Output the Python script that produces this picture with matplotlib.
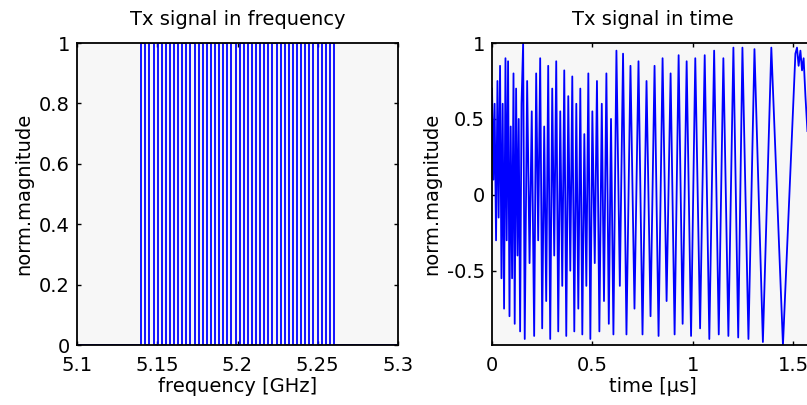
import matplotlib
matplotlib.use("Agg")
import matplotlib.pyplot as plt

# --- frequency domain: rectangular pulses (GHz) ---
pulse_lo = [5.1400, 5.1451, 5.1502, 5.1553, 5.1604, 5.1655, 5.1707, 5.1758,
            5.1809, 5.1860, 5.1911, 5.1962, 5.2013, 5.2064, 5.2115, 5.2167,
            5.2218, 5.2269, 5.2320, 5.2371, 5.2422, 5.2473, 5.2524, 5.2575]
pulse_hi = [5.1426, 5.1477, 5.1528, 5.1579, 5.1630, 5.1681, 5.1733, 5.1784,
            5.1835, 5.1886, 5.1937, 5.1988, 5.2039, 5.2090, 5.2141, 5.2193,
            5.2244, 5.2295, 5.2346, 5.2397, 5.2448, 5.2499, 5.2550, 5.2601]
freq_range = [5.1, 5.3]

# --- time domain: turning points (us, norm. magnitude) ---
t_us = [0.000, 0.007, 0.013, 0.020, 0.027, 0.033, 0.040, 0.047, 0.053, 0.060,
        0.067, 0.073, 0.080, 0.087, 0.093, 0.100, 0.107, 0.113, 0.120, 0.127,
        0.133, 0.140, 0.147, 0.155, 0.163,
        0.175, 0.187, 0.198, 0.210, 0.220, 0.230, 0.240, 0.250, 0.260, 0.270,
        0.280, 0.290, 0.300, 0.310, 0.320, 0.330, 0.340, 0.350, 0.360, 0.370,
        0.380, 0.390, 0.400, 0.410, 0.420, 0.430, 0.440, 0.450, 0.460, 0.470,
        0.480, 0.490, 0.500, 0.512, 0.523, 0.535, 0.547, 0.558, 0.570, 0.582,
        0.593, 0.605,
        0.620, 0.637, 0.653, 0.670, 0.690, 0.710, 0.730, 0.750, 0.770, 0.790,
        0.810, 0.830, 0.850, 0.870, 0.890, 0.910, 0.930, 0.950, 0.970, 0.992,
        1.013, 1.037, 1.060, 1.083, 1.107, 1.130,
        1.153, 1.178, 1.203, 1.227, 1.248, 1.278, 1.308, 1.350, 1.392, 1.450,
        1.495, 1.512, 1.520, 1.528, 1.537, 1.545, 1.553, 1.562, 1.572]
mag = [0.70, 0.10, 0.60, -0.30, 0.75, -0.15, 0.85, -0.55, 0.60, -0.75,
       0.90, -0.30, 0.88, -0.80, 0.45, -0.55, 0.80, -0.85, 0.70, -0.40,
       0.50, -0.90, 0.60, 1.00, -0.95,
       0.75, -0.45, 0.55, -0.93, 0.80, -0.30, 0.90, -0.88, 0.45, -0.70,
       0.85, -0.95, 0.70, -0.40, 0.88, -0.90, 0.55, -0.60, 0.82, -0.93,
       0.65, -0.50, 0.78, -0.90, 0.60, -0.75, 0.70, -0.92, 0.40, -0.60,
       0.80, -0.95, 0.55, -0.45, 0.75, -0.90, 0.60, -0.70, 0.80, -0.85,
       0.50, -0.92,
       0.95, -0.60, 0.93, -0.92, 0.85, -0.75, 0.88, -0.92, 0.75, -0.80,
       0.85, -0.93, 0.90, -0.70, 0.80, -0.92, 0.92, -0.85, 0.88, -0.93,
       0.90, -0.88, 0.92, -0.95, 0.95, -0.92,
       0.90, -0.93, 0.97, -0.94, 0.97, -0.95, 0.96, -0.97, 0.97, -0.99,
       0.40, 0.93, 0.97, 0.85, 0.95, 0.82, 0.90, 0.65, 0.42]
time_range = [0, 1.6]

blue = "#0000ff"
bg = "#f7f7f7"
fs = 14

plt.rcParams['font.family'] = ['DejaVu Sans']
fig = plt.figure(figsize=(8.07, 4.05), dpi=100)
fig.patch.set_facecolor("white")

# build the step outline of the pulse train
fx = [freq_range[0]]
fy = [0]
for lo, hi in zip(pulse_lo, pulse_hi):
    fx += [lo, lo, hi, hi]
    fy += [0, 1, 1, 0]
fx.append(freq_range[1])
fy.append(0)

ax1 = fig.add_axes([0.0954, 0.148, 0.3978, 0.7457])
ax1.plot(fx, fy, color=blue, lw=1.3)
ax1.set_xlim(freq_range)
ax1.set_ylim(0, 1)
ax1.set_xticks([5.1, 5.15, 5.2, 5.25, 5.3])
ax1.set_xticklabels(["5.1", "5.15", "5.2", "5.25", "5.3"])
ax1.set_yticks([0, 0.2, 0.4, 0.6, 0.8, 1])
ax1.set_yticklabels(["0", "0.2", "0.4", "0.6", "0.8", "1"])
ax1.set_title("Tx signal in frequency", fontsize=fs, pad=13)
ax1.set_xlabel("frequency [GHz]", fontsize=fs, labelpad=1)
ax1.set_ylabel("norm.magnitude", fontsize=fs, labelpad=4)

ax2 = fig.add_axes([0.6097, 0.148, 0.3978, 0.7457])
ax2.plot(t_us, mag, color=blue, lw=1.3)
ax2.set_xlim(time_range)
ax2.set_ylim(min(mag), 1)
ax2.set_xticks([0, 0.5, 1, 1.5])
ax2.set_xticklabels(["0", "0.5", "1", "1.5"])
ax2.set_yticks([-0.5, 0, 0.5, 1])
ax2.set_yticklabels(["-0.5", "0", "0.5", "1"])
ax2.set_title("Tx signal in time", fontsize=fs, pad=13)
ax2.set_xlabel("time [\u00b5s]", fontsize=fs, labelpad=1)
ax2.set_ylabel("norm.magnitude", fontsize=fs, labelpad=4)

for ax in (ax1, ax2):
    ax.set_facecolor(bg)
    ax.tick_params(direction="in", length=3, width=1, labelsize=fs,
                   top=True, right=True, pad=5)
    ax.tick_params(axis="x", pad=8)
    for s in ax.spines.values():
        s.set_linewidth(1.3)

fig.savefig("out.png", dpi=100)
